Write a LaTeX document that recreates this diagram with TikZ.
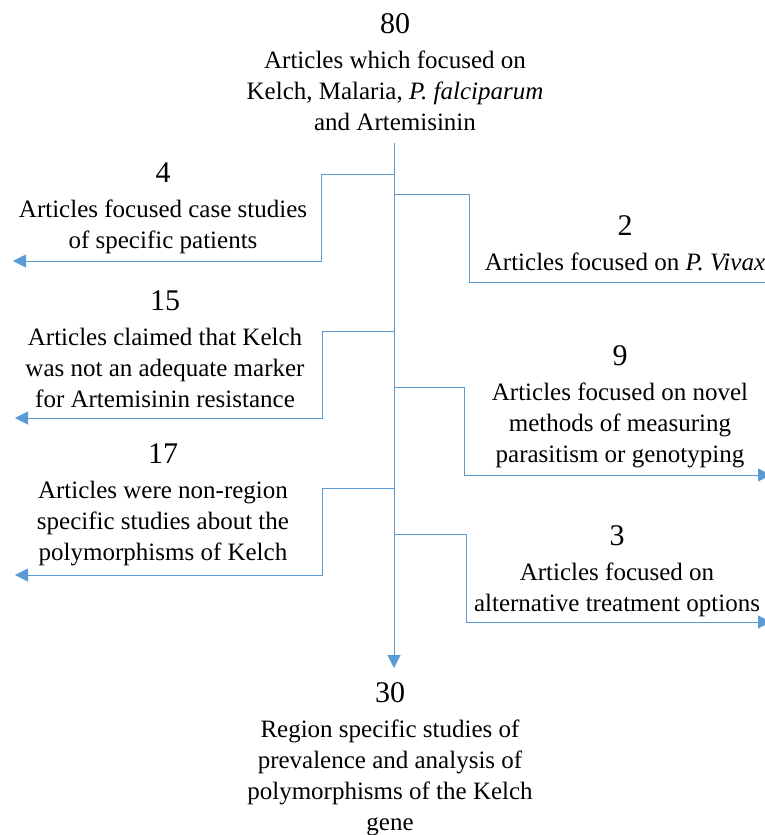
\documentclass[tikz,border=0pt]{standalone}
\usepackage{fontspec}
\setmainfont{Liberation Serif}
\usetikzlibrary{arrows.meta}
\definecolor{lineblue}{RGB}{91,155,213}
\tikzset{
  conn/.style={draw=lineblue, line width=1pt},
  arr/.style={conn, -{Triangle[length=13pt,width=13pt]}},
  txt/.style={align=center, inner sep=0pt, anchor=north, font=\fontsize{25}{31}\selectfont},
}
\newcommand{\bignum}[1]{{\fontsize{30}{31}\selectfont #1}\\[4pt]}
\begin{document}
\begin{tikzpicture}[x=1pt,y=-1pt]
\useasboundingbox (0,0) rectangle (765,835);
\node[txt] (top) at (395,13) {\bignum{80}Articles which focused on\\Kelch, Malaria, \textit{P. falciparum}\\and Artemisinin};
\node[txt] (n4) at (163,163) {\bignum{4}Articles focused case studies\\of specific patients};
\node[txt] (n2) at (625,215) {\bignum{2}Articles focused on \textit{P. Vivax}};
\node[txt] (n15) at (165,290) {\bignum{15}Articles claimed that Kelch\\was not an adequate marker\\for Artemisinin resistance};
\node[txt] (n9) at (620,345) {\bignum{9}Articles focused on novel\\methods of measuring\\parasitism or genotyping};
\node[txt] (n17) at (163,443) {\bignum{17}Articles were non-region\\specific studies about the\\polymorphisms of Kelch};
\node[txt] (n3) at (617,525) {\bignum{3}Articles focused on\\alternative treatment options};
\node[txt] (n30) at (390,682) {\bignum{30}Region specific studies of\\prevalence and analysis of\\polymorphisms of the Kelch\\gene};

\coordinate (t0) at (394,143);
\coordinate (t1) at (394,668);
\coordinate (b4) at (394,174);  \coordinate (e4) at (13,261);
\coordinate (b2) at (394,194);  \coordinate (e2) at (778,282);
\coordinate (b15) at (394,331); \coordinate (e15) at (15,418);
\coordinate (b9) at (394,387);  \coordinate (e9) at (771,475);
\coordinate (b17) at (394,488); \coordinate (e17) at (15,575);
\coordinate (b3) at (394,534);  \coordinate (e3) at (771,622);

\draw[arr] (t0) -- (t1);
\draw[arr] (b4) -- ++(-73,0) |- (e4);
\draw[arr] (b2) -- ++(75,0) |- (e2);
\draw[arr] (b15) -- ++(-72,0) |- (e15);
\draw[arr] (b9) -- ++(70,0) |- (e9);
\draw[arr] (b17) -- ++(-72,0) |- (e17);
\draw[arr] (b3) -- ++(72,0) |- (e3);
\end{tikzpicture}
\end{document}
